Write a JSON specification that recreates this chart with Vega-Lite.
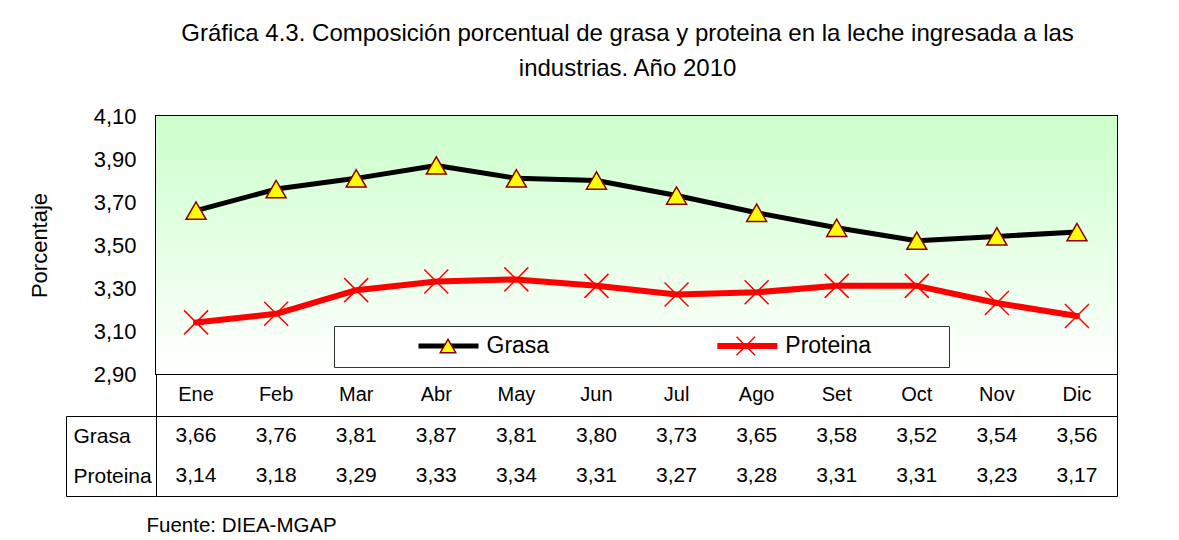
{
  "$schema": "https://vega.github.io/schema/vega-lite/v6.json",
  "background": "white",
  "padding": {"left": 27, "top": 22, "right": 5, "bottom": 5},
  "spacing": 0,
  "bounds": "flush",
  "title": {
    "text": ["Gráfica 4.3. Composición porcentual de grasa y proteina en la leche ingresada a las", "industrias. Año 2010"],
    "font": "Liberation Sans", "fontSize": 24, "fontWeight": "normal", "color": "#000000",
    "lineHeight": 35, "anchor": "middle", "offset": 23, "dx": 55
  },
  "data": {"values": [
    {"mes": "Ene", "serie": "Grasa", "valor": 3.66}, {"mes": "Feb", "serie": "Grasa", "valor": 3.76},
    {"mes": "Mar", "serie": "Grasa", "valor": 3.81}, {"mes": "Abr", "serie": "Grasa", "valor": 3.87},
    {"mes": "May", "serie": "Grasa", "valor": 3.81}, {"mes": "Jun", "serie": "Grasa", "valor": 3.80},
    {"mes": "Jul", "serie": "Grasa", "valor": 3.73}, {"mes": "Ago", "serie": "Grasa", "valor": 3.65},
    {"mes": "Set", "serie": "Grasa", "valor": 3.58}, {"mes": "Oct", "serie": "Grasa", "valor": 3.52},
    {"mes": "Nov", "serie": "Grasa", "valor": 3.54}, {"mes": "Dic", "serie": "Grasa", "valor": 3.56},
    {"mes": "Ene", "serie": "Proteina", "valor": 3.14}, {"mes": "Feb", "serie": "Proteina", "valor": 3.18},
    {"mes": "Mar", "serie": "Proteina", "valor": 3.29}, {"mes": "Abr", "serie": "Proteina", "valor": 3.33},
    {"mes": "May", "serie": "Proteina", "valor": 3.34}, {"mes": "Jun", "serie": "Proteina", "valor": 3.31},
    {"mes": "Jul", "serie": "Proteina", "valor": 3.27}, {"mes": "Ago", "serie": "Proteina", "valor": 3.28},
    {"mes": "Set", "serie": "Proteina", "valor": 3.31}, {"mes": "Oct", "serie": "Proteina", "valor": 3.31},
    {"mes": "Nov", "serie": "Proteina", "valor": 3.23}, {"mes": "Dic", "serie": "Proteina", "valor": 3.17}
  ]},
  "vconcat": [
    {
      "width": 961, "height": 258,
      "view": {"stroke": "#000000", "strokeWidth": 2},
      "layer": [
        {
          "data": {"values": [{}]},
          "mark": {"type": "rect", "stroke": null, "fill": {"gradient": "linear", "x1": 0, "y1": 0, "x2": 0, "y2": 1,
            "stops": [{"offset": 0, "color": "#CCFFCC"}, {"offset": 1, "color": "#FFFFFF"}]}},
          "encoding": {}
        },
        {
          "mark": {"type": "line", "strokeCap": "round", "strokeJoin": "round"},
          "encoding": {
            "x": {"field": "mes", "type": "nominal", "sort": ["Ene","Feb","Mar","Abr","May","Jun","Jul","Ago","Set","Oct","Nov","Dic"], "axis": null},
            "y": {"field": "valor", "type": "quantitative", "scale": {"domain": [2.9, 4.1], "nice": false, "zero": false},
              "axis": {"values": [2.9, 3.1, 3.3, 3.5, 3.7, 3.9, 4.1], "format": ".2f", "grid": false, "ticks": false, "domain": false,
                "labelFont": "Liberation Sans", "labelFontSize": 22, "labelColor": "#000000", "labelPadding": 20,
                "title": "Porcentaje", "titleFont": "Liberation Sans", "titleFontSize": 22, "titleFontWeight": "normal",
                "titleColor": "#000000", "titlePadding": 42}},
            "strokeWidth": {"field": "serie", "type": "ordinal", "scale": {"domain": ["Grasa", "Proteina"], "range": [5, 6]}, "legend": null},
            "color": {"field": "serie", "type": "nominal",
              "scale": {"domain": ["Grasa", "Proteina"], "range": ["#000000", "#FF0000"]},
              "legend": {"orient": "none", "legendX": 178, "legendY": 210, "direction": "horizontal", "columns": 2,
                "gridAlign": "all", "columnPadding": 68.8, "symbolType": "stroke", "symbolSize": 3600, "symbolStrokeWidth": 5,
                "symbolOffset": 72.5, "labelOffset": 5, "labelFont": "Liberation Sans", "labelFontSize": 23, "labelColor": "#000000",
                "padding": 9, "clipHeight": 22, "fillColor": "#FFFFFF", "strokeColor": "#333333",
                "title": " ", "titleOrient": "right", "titlePadding": 69, "titleFontSize": 10}}
          }
        },
        {
          "mark": {"type": "point", "filled": true, "size": 400, "strokeWidth": 1.5, "opacity": 1},
          "encoding": {
            "x": {"field": "mes", "type": "nominal", "sort": ["Ene","Feb","Mar","Abr","May","Jun","Jul","Ago","Set","Oct","Nov","Dic"], "axis": null},
            "y": {"field": "valor", "type": "quantitative"},
            "fill": {"field": "serie", "type": "nominal", "scale": {"range": ["#FFFF00", "transparent"]},
              "legend": {"orient": "none", "legendX": 178, "legendY": 210, "direction": "horizontal", "columns": 2,
                "gridAlign": "all", "columnPadding": 68.8, "symbolSize": 240, "symbolStrokeWidth": 1.5,
                "symbolOffset": 93.5, "labelOffset": 26, "labelFont": "Liberation Sans", "labelFontSize": 23, "labelOpacity": 0,
                "padding": 9, "clipHeight": 22, "title": null}},
            "stroke": {"field": "serie", "type": "nominal", "scale": {"range": ["#8B0000", "#FF0000"]},
              "legend": {"orient": "none", "legendX": 178, "legendY": 210, "direction": "horizontal", "columns": 2,
                "gridAlign": "all", "columnPadding": 68.8, "symbolSize": 240, "symbolStrokeWidth": 1.5,
                "symbolOffset": 93.5, "labelOffset": 26, "labelFont": "Liberation Sans", "labelFontSize": 23, "labelOpacity": 0,
                "padding": 9, "clipHeight": 22, "title": null}},
            "shape": {"field": "serie", "type": "nominal", "scale": {"range": ["triangle-up", "M-1.2,-1.2L1.2,1.2M-1.2,1.2L1.2,-1.2"]},
              "legend": {"orient": "none", "legendX": 178, "legendY": 210, "direction": "horizontal", "columns": 2,
                "gridAlign": "all", "columnPadding": 68.8, "symbolSize": 240, "symbolStrokeWidth": 1.5,
                "symbolOffset": 93.5, "labelOffset": 26, "labelFont": "Liberation Sans", "labelFontSize": 23, "labelOpacity": 0,
                "padding": 9, "clipHeight": 22, "title": null}}
          }
        }
      ]
    },
    {
      "width": 961, "height": 42,
      "view": {"stroke": "#000000", "strokeWidth": 1},
      "transform": [{"filter": "datum.serie === 'Grasa'"}],
      "mark": {"type": "text", "font": "Liberation Sans", "fontSize": 20, "color": "#000000", "baseline": "middle"},
      "encoding": {
        "x": {"field": "mes", "type": "nominal", "sort": ["Ene","Feb","Mar","Abr","May","Jun","Jul","Ago","Set","Oct","Nov","Dic"], "axis": null},
        "text": {"field": "mes", "type": "nominal"}
      }
    },
    {
      "width": 961, "height": 80,
      "view": {"stroke": "#000000", "strokeWidth": 1},
      "mark": {"type": "text", "font": "Liberation Sans", "fontSize": 21, "color": "#000000", "baseline": "middle"},
      "encoding": {
        "x": {"field": "mes", "type": "nominal", "sort": ["Ene","Feb","Mar","Abr","May","Jun","Jul","Ago","Set","Oct","Nov","Dic"],
          "axis": {"labels": false, "ticks": false, "domain": false, "grid": false,
            "title": "Fuente: DIEA-MGAP", "titleFont": "Liberation Sans", "titleFontSize": 20.5, "titleFontWeight": "normal",
            "titleColor": "#000000", "titleAnchor": "start", "titleAlign": "left", "titleBaseline": "middle", "titleX": -10, "titleY": 29}},
        "y": {"field": "serie", "type": "nominal", "sort": ["Grasa", "Proteina"],
          "scale": {"type": "band", "paddingInner": 0, "paddingOuter": 0},
          "axis": {"title": null, "offset": 90, "domain": true, "domainColor": "#000000", "domainWidth": 1,
            "ticks": true, "tickSize": -90, "tickBand": "extent", "tickColor": "#000000", "tickWidth": 1,
            "tickOpacity": {"condition": {"test": "datum.value === 'Grasa'", "value": 0}, "value": 1},
            "grid": false, "labelAlign": "left", "labelBaseline": "middle", "labelPadding": 83,
            "labelFont": "Liberation Sans", "labelFontSize": 21, "labelColor": "#000000"}},
        "text": {"field": "valor", "type": "quantitative", "format": ".2f"}
      }
    }
  ],
  "config": {
    "locale": {"number": {"decimal": ",", "thousands": ".", "grouping": [3], "currency": ["", ""]}},
    "font": "Liberation Sans"
  }
}
